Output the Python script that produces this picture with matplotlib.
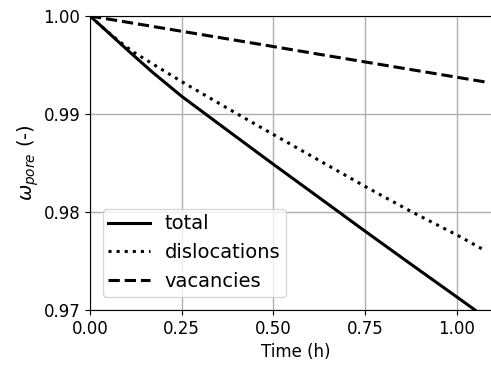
import matplotlib
matplotlib.use("Agg")
import matplotlib.pyplot as plt

# Time (h)
time_h = [0.0, 0.04, 0.08, 0.12, 0.17, 0.25, 0.375, 0.5, 0.625, 0.75, 0.875, 1.0, 1.075]

# Pore fraction contributions
total = [1.0, 0.99865, 0.99728, 0.99593, 0.99427, 0.99180, 0.98832, 0.98486,
         0.98145, 0.97803, 0.97466, 0.97132, 0.96930]
dislocations = [1.0, 0.99865, 0.99740, 0.99628, 0.99513, 0.99330, 0.99058, 0.98790,
                0.98525, 0.98260, 0.98005, 0.97765, 0.97610]
vacancies = [1.0, 0.99975, 0.99950, 0.99925, 0.99894, 0.99844, 0.99766, 0.99688,
             0.99609, 0.99531, 0.99453, 0.99375, 0.99328]

xticks = [0.0, 0.25, 0.5, 0.75, 1.0]
yticks = [0.97, 0.98, 0.99, 1.00]

plt.rcParams["font.size"] = 12

fig = plt.figure(figsize=(4.91, 3.66), dpi=100)
ax = fig.add_axes([90 / 491, 56 / 366, 410.8 / 491, 294 / 366])

ax.plot(time_h, total, color="black", lw=2.2, ls="-", label="total")
ax.plot(time_h, dislocations, color="black", lw=2.2, ls=":", label="dislocations")
ax.plot(time_h, vacancies, color="black", lw=2.2, ls="--", label="vacancies")

ax.set_xlim(0, 1.1194)
ax.set_ylim(0.97, 1.00)
ax.set_xticks(xticks)
ax.set_yticks(yticks)
ax.set_xticklabels([f"{v:.2f}" for v in xticks])
ax.set_yticklabels([f"{v:.2f}" for v in yticks])
ax.grid(True, color="#b0b0b0", lw=1.0)
ax.set_axisbelow(True)
ax.spines["right"].set_visible(False)

ax.set_xlabel("Time (h)")
ax.set_ylabel(r"$\omega_{pore}$ (-)", fontsize=14, labelpad=1.5)

ax.legend(loc="lower left", bbox_to_anchor=(0.007, 0.012), fontsize=14,
          handlelength=2.15, borderpad=0.3, handletextpad=0.75)

fig.savefig("out.png", dpi=100)
